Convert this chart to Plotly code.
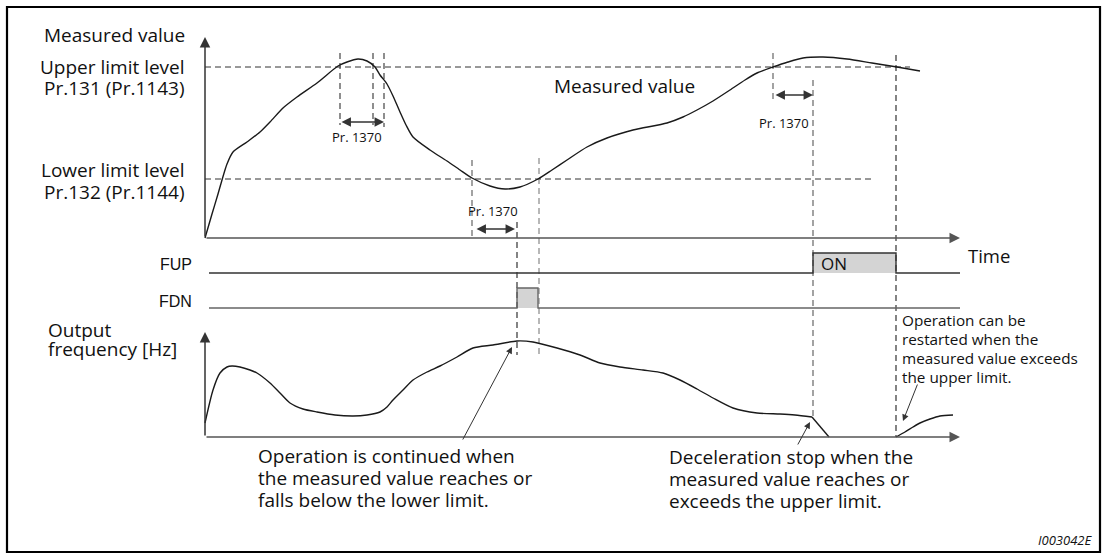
import plotly.graph_objects as go

# ---------------- data (diagram coordinates) ----------------
# Measured value curve (time, value) in the upper panel
measured_time = [205, 212, 218, 222, 227, 233, 247, 260, 270, 283, 297, 317, 338, 347, 358,
                 367, 375, 380, 387, 393, 400, 406, 413, 430, 447, 460, 472, 490, 505, 520,
                 538, 552, 567, 587, 607, 633, 667, 683, 697, 713, 730, 745, 757, 773, 788,
                 803, 823, 847, 872, 897, 920]
measured_value = [238, 214, 194, 180, 164, 152, 142, 132, 122, 108, 97, 83, 66, 62, 59,
                  61, 67, 75, 84, 96, 112, 125, 137, 150, 161, 170, 178, 186, 189, 187,
                  179, 170, 160, 147, 138, 130, 123, 117, 110, 101, 90, 80, 73, 67, 62,
                  58, 57, 59, 63, 67, 71]

# Output frequency curve in the lower panel
freq_time = [205, 213, 220, 227, 232, 240, 250, 257, 270, 280, 290, 303, 317, 335, 353,
             367, 380, 387, 393, 403, 413, 427, 440, 457, 473, 493, 517, 533, 557, 580,
             600, 620, 643, 663, 680, 697, 713, 733, 757, 780, 795, 812]
freq_value = [423, 390, 373, 367, 366, 367, 370, 373, 383, 393, 403, 409, 412, 415, 416,
              415, 412, 407, 400, 390, 380, 372, 366, 357, 348, 345, 341, 342, 348, 355,
              363, 367, 370, 373, 380, 389, 398, 408, 413, 414, 415, 417]
decel_time = [812, 829]
decel_value = [417, 437]
restart_time = [896, 905, 913, 920, 930, 940, 953]
restart_value = [437, 432, 427, 423, 419, 416, 415]

# Output signals
fup_time = [209, 813, 813, 896, 896, 960]
fup_level = [273, 273, 253, 253, 273, 273]
fdn_time = [209, 517, 517, 538, 538, 960]
fdn_level = [308, 308, 288, 288, 308, 308]

# Limit levels
upper_level = 67
lower_level = 179

# Vertical dashed markers: (time, from, to, colour)
marker_time = [340, 373, 384, 472, 517, 539, 773, 813, 896]
marker_from = [53, 53, 53, 160, 222, 158, 53, 80, 55]
marker_to = [125, 125, 127, 238, 355, 357, 100, 418, 437]
marker_color = ["#444", "#444", "#444", "#666", "#333", "#888", "#666", "#666", "#333"]

# Pr. 1370 delay spans (start, end, level)
delay_start = [340, 475, 774]
delay_end = [384, 515, 813]
delay_level = [122, 229, 95]
delay_label_pos = [(357, 137), (493, 211), (784, 123)]
delay_label = "Pr. 1370"

FONT = "Open Sans, Noto Sans, sans-serif"
ARIAL = "Liberation Sans, Arial, sans-serif"

fig = go.Figure()

# signal fills
fig.add_trace(go.Scatter(x=[fup_time[1], fup_time[3], fup_time[3], fup_time[1]],
                         y=[fup_level[2], fup_level[2], fup_level[0], fup_level[0]],
                         fill="toself", fillcolor="#d4d4d4", line=dict(width=0),
                         mode="lines", hoverinfo="skip"))
fig.add_trace(go.Scatter(x=[fdn_time[1], fdn_time[3], fdn_time[3], fdn_time[1]],
                         y=[fdn_level[2], fdn_level[2], fdn_level[0], fdn_level[0]],
                         fill="toself", fillcolor="#d4d4d4", line=dict(width=0),
                         mode="lines", hoverinfo="skip"))

# limit level dashed lines
fig.add_trace(go.Scatter(x=[205, 910], y=[upper_level, upper_level], mode="lines",
                         line=dict(color="#333", width=1, dash="6px,4px"), hoverinfo="skip"))
fig.add_trace(go.Scatter(x=[205, 873], y=[lower_level, lower_level], mode="lines",
                         line=dict(color="#333", width=1, dash="6px,4px"), hoverinfo="skip"))

# vertical dashed markers
for t, a, b, c in zip(marker_time, marker_from, marker_to, marker_color):
    fig.add_trace(go.Scatter(x=[t, t], y=[a, b], mode="lines",
                             line=dict(color=c, width=1.2, dash="6px,4px"), hoverinfo="skip"))

# curves
fig.add_trace(go.Scatter(x=measured_time, y=measured_value, mode="lines",
                         line=dict(color="#1a1a1a", width=1.4, shape="spline", smoothing=0.7),
                         hoverinfo="skip"))
fig.add_trace(go.Scatter(x=freq_time, y=freq_value, mode="lines",
                         line=dict(color="#1a1a1a", width=1.4, shape="spline", smoothing=0.7),
                         hoverinfo="skip"))
fig.add_trace(go.Scatter(x=decel_time, y=decel_value, mode="lines",
                         line=dict(color="#1a1a1a", width=1.4), hoverinfo="skip"))
fig.add_trace(go.Scatter(x=restart_time, y=restart_value, mode="lines",
                         line=dict(color="#1a1a1a", width=1.4, shape="spline", smoothing=0.7),
                         hoverinfo="skip"))

# signals
fig.add_trace(go.Scatter(x=fup_time, y=fup_level, mode="lines",
                         line=dict(color="#333", width=1.4), hoverinfo="skip"))
fig.add_trace(go.Scatter(x=fdn_time, y=fdn_level, mode="lines",
                         line=dict(color="#666", width=1.4), hoverinfo="skip"))

annotations = []

def arrow(x0, y0, x1, y1, width=1.5, color="#333", both=False, size=1.0, head=2):
    annotations.append(dict(x=x1, y=y1, ax=x0, ay=y0, xref="x", yref="y", axref="x", ayref="y",
                            text="", showarrow=True, arrowhead=head, arrowsize=size,
                            arrowwidth=width, arrowcolor=color, standoff=0, startstandoff=0,
                            arrowside="end+start" if both else "end", startarrowhead=head,
                            startarrowsize=size))

# axes
arrow(205, 238, 205, 37, width=1.5, color="#333", size=1.4)
arrow(205, 238, 960, 238, width=1.5, color="#555", size=1.4)
arrow(205, 437, 205, 332, width=1.5, color="#333", size=1.4)
arrow(205, 437, 960, 437, width=1.5, color="#555", size=1.4)

# Pr.1370 spans
for s, e, lv in zip(delay_start, delay_end, delay_level):
    arrow(s, lv, e, lv, width=1.4, color="#333", both=True, size=1.35)

# explanation pointers
arrow(462, 441, 512, 347, width=1.0, color="#333", size=1.3)
arrow(797, 446, 810, 422, width=1.0, color="#333", size=1.3)
arrow(918, 383, 903, 421, width=1.0, color="#333", size=1.3)

def text(x, y, s, size=18, xanchor="left", font=FONT, italic=False):
    annotations.append(dict(x=x, y=y, xref="x", yref="y", text=s, showarrow=False,
                            xanchor=xanchor, yanchor="middle",
                            font=dict(family=font, size=size, color="#111",
                                      style="italic" if italic else "normal")))

for x, y in delay_label_pos:
    text(x, y, delay_label, size=13, xanchor="center")

left_labels = ["Measured value", "Upper limit level", "Pr.131 (Pr.1143)",
               "Lower limit level", "Pr.132 (Pr.1144)"]
left_label_y = [35, 67, 88, 170, 192]
for s, y in zip(left_labels, left_label_y):
    text(187, y, s, size=19, xanchor="right")

text(624, 86, "Measured value", size=19, xanchor="center")
text(966, 255, "Time", size=18.5)
text(819, 263, "ON", size=17)
text(194, 264, "FUP", size=16, xanchor="right", font=ARIAL)
text(194, 301, "FDN", size=16, xanchor="right", font=ARIAL)
text(46, 330, "Output", size=19)
text(46, 349, "frequency [Hz]", size=19)

restart_lines = ["Operation can be", "restarted when the", "measured value exceeds",
                 "the upper limit."]
for i, s in enumerate(restart_lines):
    text(900, 320 + 19 * i, s, size=15.3)

continued_lines = ["Operation is continued when", "the measured value reaches or",
                   "falls below the lower limit."]
for i, s in enumerate(continued_lines):
    text(256, 456 + 22 * i, s, size=19)

decel_lines = ["Deceleration stop when the", "measured value reaches or",
               "exceeds the upper limit."]
for i, s in enumerate(decel_lines):
    text(667, 457 + 22 * i, s, size=19)

text(1094, 540, "I003042E", size=13, xanchor="right", italic=True)

shapes = [dict(type="rect", xref="x", yref="y", x0=7, y0=7, x1=1100, y1=552,
               line=dict(color="#000", width=2.2), fillcolor="rgba(0,0,0,0)", layer="below")]

fig.update_layout(
    width=1103, height=554,
    margin=dict(l=0, r=0, t=0, b=0),
    paper_bgcolor="white", plot_bgcolor="white",
    showlegend=False,
    xaxis=dict(range=[0, 1103], visible=False, fixedrange=True),
    yaxis=dict(range=[554, 0], visible=False, fixedrange=True),
    annotations=annotations,
    shapes=shapes,
)

fig.write_html("out.html",
               post_script="document.body.style.margin='0';document.body.style.overflow='hidden';",
               config={"displayModeBar": False})
